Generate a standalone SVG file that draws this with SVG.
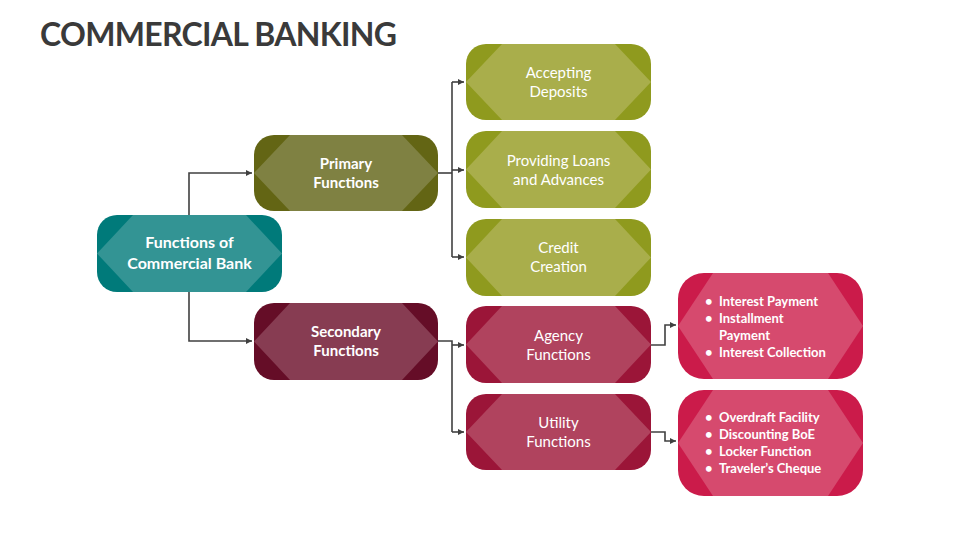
<svg xmlns="http://www.w3.org/2000/svg" width="960" height="540" viewBox="0 0 960 540">
<defs>
<marker id="ar" markerWidth="8" markerHeight="8" refX="6" refY="4" orient="auto" markerUnits="userSpaceOnUse"><path d="M0,1 L6,4 L0,7 Z" fill="#404040"/></marker>
</defs>
<style>
text{font-family:Lato,"Open Sans","Liberation Sans",sans-serif;fill:#fff;font-weight:bold}
.t{font-size:15px;text-anchor:middle}
.b{font-size:13px}
.c{fill:none;stroke:#404040;stroke-width:1.6}
</style>
<rect width="960" height="540" fill="#fff"/>
<text x="40" y="46" style="font-size:32px;fill:#3a3a3a" textLength="357">COMMERCIAL BANKING</text>
<g id="connectors" class="c">
<path d="M189,215 V173 H252" marker-end="url(#ar)"/>
<path d="M189,292 V341 H252" marker-end="url(#ar)"/>
<path d="M438,173 H452"/>
<path d="M452,82 V257"/>
<path d="M452,82 H464" marker-end="url(#ar)"/>
<path d="M452,170 H464" marker-end="url(#ar)"/>
<path d="M452,257 H464" marker-end="url(#ar)"/>
<path d="M438,341 H452 V432"/>
<path d="M452,345 H464" marker-end="url(#ar)"/>
<path d="M452,432 H464" marker-end="url(#ar)"/>
<path d="M651,345 H665 V325 H676" marker-end="url(#ar)"/>
<path d="M651,432 H665 V441 H676" marker-end="url(#ar)"/>
</g>
<g id="root">
<rect x="97" y="215" width="185" height="77" rx="20" fill="#007a7a"/>
<polygon points="97,253.5 133,215 246,215 282,253.5 246,292 133,292" fill="#339494"/>
<text class="t" style="font-size:16px" x="189.5" y="248">Functions of</text>
<text class="t" style="font-size:16px" x="189.5" y="269">Commercial Bank</text>
</g>
<g id="primary">
<rect x="254" y="135" width="184" height="76" rx="20" fill="#636514"/>
<polygon points="254,173 290,135 402,135 438,173 402,211 290,211" fill="#7f8142"/>
<text class="t" x="346" y="169">Primary</text>
<text class="t" x="346" y="188">Functions</text>
</g>
<g id="secondary">
<rect x="254" y="303" width="184" height="77" rx="20" fill="#650d27"/>
<polygon points="254,341.5 290,303 402,303 438,341.5 402,380 290,380" fill="#873c52"/>
<text class="t" x="346" y="337">Secondary</text>
<text class="t" x="346" y="356">Functions</text>
</g>
<g id="accepting">
<rect x="466" y="44" width="185" height="76" rx="20" fill="#8f9a1e"/>
<polygon points="466,82 502,44 615,44 651,82 615,120 502,120" fill="#a9ae4b"/>
<text class="t" style="font-weight:normal" x="558.5" y="78">Accepting</text>
<text class="t" style="font-weight:normal" x="558.5" y="97">Deposits</text>
</g>
<g id="loans">
<rect x="466" y="131" width="185" height="77" rx="20" fill="#8f9a1e"/>
<polygon points="466,169.5 502,131 615,131 651,169.5 615,208 502,208" fill="#a9ae4b"/>
<text class="t" style="font-weight:normal" x="558.5" y="166">Providing Loans</text>
<text class="t" style="font-weight:normal" x="558.5" y="185">and Advances</text>
</g>
<g id="credit">
<rect x="466" y="219" width="185" height="77" rx="20" fill="#8f9a1e"/>
<polygon points="466,257.5 502,219 615,219 651,257.5 615,296 502,296" fill="#a9ae4b"/>
<text class="t" style="font-weight:normal" x="558.5" y="253">Credit</text>
<text class="t" style="font-weight:normal" x="558.5" y="272">Creation</text>
</g>
<g id="agency">
<rect x="466" y="306" width="185" height="77" rx="20" fill="#9b1538"/>
<polygon points="466,344.5 502,306 615,306 651,344.5 615,383 502,383" fill="#b0435e"/>
<text class="t" style="font-weight:normal" x="558.5" y="341">Agency</text>
<text class="t" style="font-weight:normal" x="558.5" y="360">Functions</text>
</g>
<g id="utility">
<rect x="466" y="394" width="185" height="76" rx="20" fill="#9b1538"/>
<polygon points="466,432 502,394 615,394 651,432 615,470 502,470" fill="#b0435e"/>
<text class="t" style="font-weight:normal" x="558.5" y="428">Utility</text>
<text class="t" style="font-weight:normal" x="558.5" y="447">Functions</text>
</g>
<g id="agency-list">
<rect x="678" y="273" width="185" height="106" rx="26" fill="#cb1b4a"/>
<polygon points="678,326 713,273 828,273 863,326 828,379 713,379" fill="#d64a6e"/>
<g class="b">
<text class="b" x="705" y="306">•</text><text class="b" x="719" y="306">Interest Payment</text>
<text class="b" x="705" y="323">•</text><text class="b" x="719" y="323">Installment</text>
<text class="b" x="719" y="340">Payment</text>
<text class="b" x="705" y="357">•</text><text class="b" x="719" y="357">Interest Collection</text>
</g>
</g>
<g id="utility-list">
<rect x="678" y="390" width="185" height="106" rx="26" fill="#cb1b4a"/>
<polygon points="678,443 713,390 828,390 863,443 828,496 713,496" fill="#d64a6e"/>
<text class="b" x="705" y="422">•</text><text class="b" x="719" y="422">Overdraft Facility</text>
<text class="b" x="705" y="439">•</text><text class="b" x="719" y="439">Discounting BoE</text>
<text class="b" x="705" y="456">•</text><text class="b" x="719" y="456">Locker Function</text>
<text class="b" x="705" y="473">•</text><text class="b" x="719" y="473">Traveler’s Cheque</text>
</g>
</svg>
